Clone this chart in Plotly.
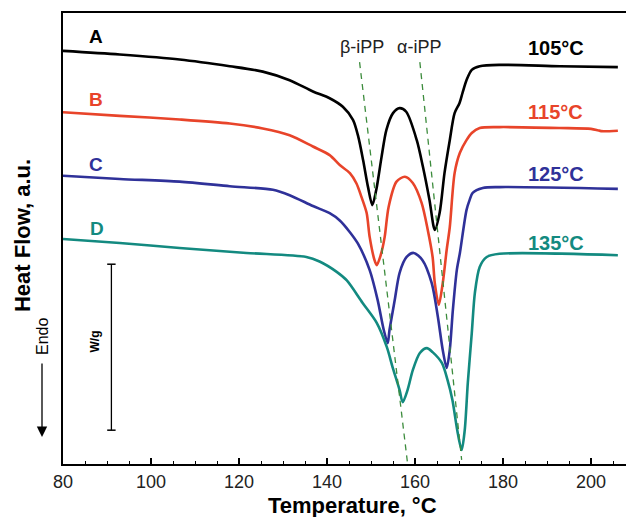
import plotly.graph_objects as go

# DSC heating scans of iPP samples crystallized at different temperatures
temp_a = [80.0, 92.9, 106.5, 117.9, 125.4, 131.5, 136.8, 140.6, 143.6, 145.9, 147.1, 148.2, 149.3,
          150.3, 151.2, 152.4, 153.5, 155.0, 156.5, 158.0, 160.4, 161.8, 163.3, 164.5, 165.6, 166.7,
          167.9, 169.0, 170.1, 170.8, 171.7, 172.9, 174.7, 179.2, 192.9, 206.1]
flow_a = [91.6, 90.8, 89.7, 88.2, 87.0, 85.1, 82.6, 81.1, 79.2, 76.3, 72.6, 67.4, 61.5,
          57.4, 60.8, 68.1, 74.1, 77.8, 78.9, 78.1, 71.8, 65.9, 58.5, 51.9, 55.7, 64.5,
          71.8, 77.8, 80.0, 82.3, 85.1, 87.4, 88.2, 88.5, 88.2, 88.0]

temp_b = [80.0, 92.9, 106.5, 117.9, 125.4, 131.5, 136.8, 140.6, 142.9, 145.2, 146.7, 147.8, 149.0,
          149.7, 150.8, 151.3, 152.2, 153.1, 154.0, 155.8, 157.7, 159.5, 161.5, 162.9, 164.0, 164.5,
          165.4, 166.3, 167.2, 167.9, 169.0, 170.2, 171.7, 172.9, 174.7, 179.2, 192.9, 200.0, 201.5,
          202.3, 206.1]
flow_b = [78.0, 77.2, 76.4, 75.5, 74.4, 72.9, 70.4, 68.5, 66.3, 64.5, 62.2, 59.3, 55.7,
          50.3, 45.2, 44.1, 46.3, 50.3, 57.0, 62.6, 63.7, 62.3, 57.9, 51.9, 45.9, 40.1,
          35.3, 40.1, 47.5, 52.5, 64.5, 69.0, 71.8, 73.4, 74.5, 74.7, 74.5, 74.3, 74.0,
          73.8, 73.9]

temp_c = [80.0, 92.9, 106.5, 117.9, 127.7, 131.5, 136.8, 140.6, 142.9, 145.2, 147.0, 149.7, 151.5,
          152.9, 153.8, 154.2, 155.4, 156.5, 158.1, 159.7, 161.7, 163.8, 165.2, 166.3, 167.2, 167.9,
          168.6, 169.5, 170.2, 171.7, 172.4, 173.1, 175.4, 179.2, 206.1]
flow_c = [63.9, 63.2, 62.6, 61.6, 60.8, 59.6, 57.2, 55.6, 54.0, 51.4, 48.9, 43.0, 36.4,
          29.7, 26.8, 29.7, 36.4, 42.4, 45.9, 46.8, 45.2, 40.1, 32.6, 25.3, 21.3, 25.3,
          34.1, 43.0, 46.8, 56.3, 58.5, 60.1, 61.2, 61.4, 61.0]

temp_d = [80.0, 92.9, 106.5, 121.7, 135.3, 138.3, 142.2, 144.5, 148.1, 151.3, 153.6, 154.9, 156.5,
          157.2, 158.3, 159.5, 161.1, 162.7, 164.0, 166.1, 167.4, 168.5, 169.6, 170.6, 171.3, 172.0,
          172.9, 173.6, 174.7, 176.3, 179.2, 206.1]
flow_d = [49.9, 49.0, 47.9, 46.8, 45.9, 44.9, 42.6, 40.7, 35.7, 31.3, 25.9, 21.5, 16.4,
          13.7, 16.4, 20.8, 24.6, 25.7, 24.8, 22.4, 18.6, 14.2, 7.5, 3.1, 7.5, 18.0,
          29.0, 37.9, 43.7, 45.9, 46.6, 46.3]

curve_names = ["A", "B", "C", "D"]
cryst_temps = ["105°C", "115°C", "125°C", "135°C"]
curve_colors = ["#000000", "#e8442a", "#2f3199", "#138a80"]
name_pos = [(87.4, 94.9), (87.4, 80.9), (87.4, 66.5), (87.7, 52.3)]
temp_pos = [(192.0, 92.2), (192.0, 78.0), (192.0, 64.3), (192.0, 49.0)]

# guide lines following the two melting peaks
beta_line_t = [147.4, 158.3]
beta_line_y = [89.1, 0.2]
alpha_line_t = [161.1, 170.6]
alpha_line_y = [89.1, 0.9]

# heat-flow scale bar
scale_t = [91.0, 91.0]
scale_y = [44.3, 7.5]

x_ticks = [80, 100, 120, 140, 160, 180, 200]

FONT = "Liberation Sans, Arial, sans-serif"

fig = go.Figure()

curves = [(temp_a, flow_a), (temp_b, flow_b), (temp_c, flow_c), (temp_d, flow_d)]
for (t, f), name, col in zip(curves, curve_names, curve_colors):
    fig.add_trace(go.Scatter(x=t, y=f, mode="lines", name=name,
                             line=dict(color=col, width=2.6, shape="spline", smoothing=0.8),
                             showlegend=False, hoverinfo="skip"))

for t, y in [(beta_line_t, beta_line_y), (alpha_line_t, alpha_line_y)]:
    fig.add_trace(go.Scatter(x=t, y=y, mode="lines",
                             line=dict(color="#3d8c3d", width=1.3, dash="6px,5px"),
                             showlegend=False, hoverinfo="skip"))

fig.add_trace(go.Scatter(x=scale_t, y=scale_y, mode="lines+markers",
                         line=dict(color="black", width=1.3),
                         marker=dict(symbol="line-ew", size=6, color="black",
                                     line=dict(width=1.5, color="black")),
                         showlegend=False, hoverinfo="skip"))

annotations = []
for (x, y), txt, col in zip(name_pos, curve_names, curve_colors):
    annotations.append(dict(x=x, y=y, xref="x", yref="y", text=f"<b>{txt}</b>", showarrow=False,
                            font=dict(family=FONT, size=19, color=col)))
for (x, y), txt, col in zip(temp_pos, cryst_temps, curve_colors):
    annotations.append(dict(x=x, y=y, xref="x", yref="y", text=f"<b>{txt}</b>", showarrow=False,
                            font=dict(family=FONT, size=20, color=col)))

annotations += [
    dict(x=147.9, y=92.5, xref="x", yref="y", text="β-iPP", showarrow=False,
         font=dict(family=FONT, size=18, color="#222222")),
    dict(x=160.9, y=92.5, xref="x", yref="y", text="α-iPP", showarrow=False,
         font=dict(family=FONT, size=18, color="#222222")),
    dict(x=87.2, y=27.1, xref="x", yref="y", text="<b>W/g</b>", showarrow=False, textangle=-90,
         font=dict(family=FONT, size=12, color="black")),
    # axis titles
    dict(x=-0.0728, y=0.5055, xref="paper", yref="paper", text="<b>Heat Flow, a.u.</b>",
         showarrow=False, textangle=-90, xanchor="center", yanchor="middle",
         font=dict(family=FONT, size=22, color="black")),
    dict(x=0.515, y=-0.092, xref="paper", yref="paper", text="<b>Temperature, °C</b>",
         showarrow=False, xanchor="center", yanchor="middle",
         font=dict(family=FONT, size=22, color="black")),
    # endotherm direction
    dict(x=-0.0355, y=0.2816, xref="paper", yref="paper", text="Endo",
         showarrow=False, textangle=-90, xanchor="center", yanchor="middle",
         font=dict(family=FONT, size=16, color="black")),
    dict(x=-0.0373, y=0.0599, xref="paper", yref="paper", text="", showarrow=True,
         ax=0, ay=-75, arrowhead=2, arrowsize=1.6, arrowwidth=1.3, arrowcolor="black"),
]

fig.update_layout(
    width=626, height=517,
    margin=dict(l=63, r=0, t=13, b=53),
    paper_bgcolor="white", plot_bgcolor="white",
    annotations=annotations,
    xaxis=dict(range=[80, 207.95], tickvals=x_ticks, ticks="inside", ticklen=6, tickwidth=1.5,
               tickcolor="black", showline=True, linewidth=2, linecolor="black", mirror=True,
               showgrid=False, zeroline=False,
               tickfont=dict(family=FONT, size=18, color="#222222"),
               minor=dict(dtick=5, tick0=80, ticks="inside", ticklen=3, tickwidth=1.2,
                          tickcolor="black", showgrid=False)),
    yaxis=dict(range=[0, 100], showticklabels=False, ticks="", showline=True, linewidth=2,
               linecolor="black", mirror=False, showgrid=False, zeroline=False),
)

fig.write_html("out.html")
